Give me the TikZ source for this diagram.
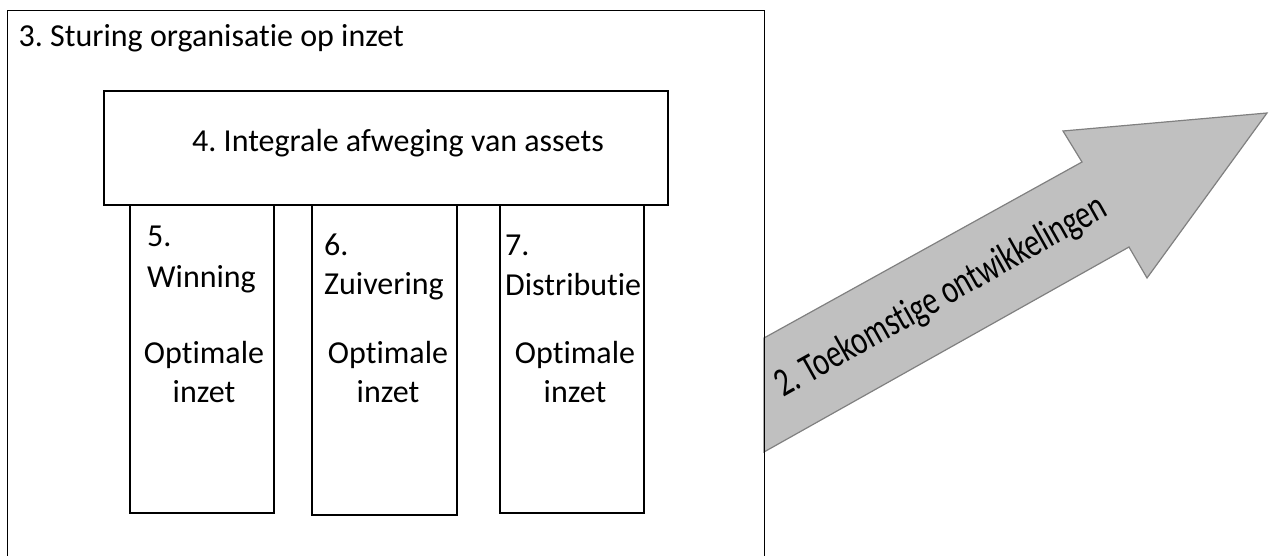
\documentclass[tikz,border=0pt]{standalone}
\usepackage{fontspec}
\setmainfont{Carlito}[Ligatures=NoCommon]
\frenchspacing
\definecolor{arrowfill}{HTML}{C0C0C0}
\definecolor{arrowline}{HTML}{808080}
\begin{document}
\begin{tikzpicture}[x=1pt,y=-1pt,
  box/.style={draw,line width=1.5pt},
  txt/.style={inner sep=0pt,font=\fontsize{32}{39}\selectfont},
  lft/.style={txt,anchor=base west},
  mid/.style={txt,anchor=base},
  arrowshape/.style={fill=arrowfill,draw=arrowline,line width=1.2pt,line join=miter}]
\useasboundingbox (0,0) rectangle (1269,556);

% big arrow
\coordinate (s1) at (764,338);
\coordinate (h1) at (1082,162);
\coordinate (h2) at (1063,131);
\coordinate (tip) at (1267,113);
\coordinate (h3) at (1147,278);
\coordinate (h4) at (1129,247);
\coordinate (s2) at (764,452);
\draw[arrowshape] (s1) -- (h1) -- (h2) -- (tip) -- (h3) -- (h4) -- (s2) -- cycle;
\node[mid,rotate=29.3,font=\fontsize{30}{36}\selectfont] (2) at (946.5,306.5)
  {\scalebox{1}[1.35]{2. Toekomstige ontwikkelingen}};

% outer frame
\draw[box] (7.7,10.7) rectangle (764.3,580);
\node[lft] (3) at (18.5,46.7) {3. Sturing organisatie op inzet};

% pillars
\draw[box] (130,205) rectangle (274,513);
\draw[box] (312,205) rectangle (457,515);
\draw[box] (500,205) rectangle (644,513);

\node[lft] (5) at (147,247) {5.};
\node[lft] (w) at (147,287) {Winning};
\node[mid] (wo) at (204,363) {Optimale};
\node[mid] (wi) at (204,402) {inzet};

\node[lft] (6) at (324,255) {6.};
\node[lft] (z) at (324,294) {Zuivering};
\node[mid] (zo) at (388,363) {Optimale};
\node[mid] (zi) at (388,402) {inzet};

\node[lft] (7) at (505,255) {7.};
\node[lft] (d) at (505,295) {Distributie};
\node[mid] (do) at (575,363) {Optimale};
\node[mid] (di) at (575,402) {inzet};

% roof
\draw[box,fill=white] (104,91) rectangle (668,205);
\node[lft] (4) at (192,151.7) {4. Integrale afweging van assets};
\end{tikzpicture}
\end{document}
